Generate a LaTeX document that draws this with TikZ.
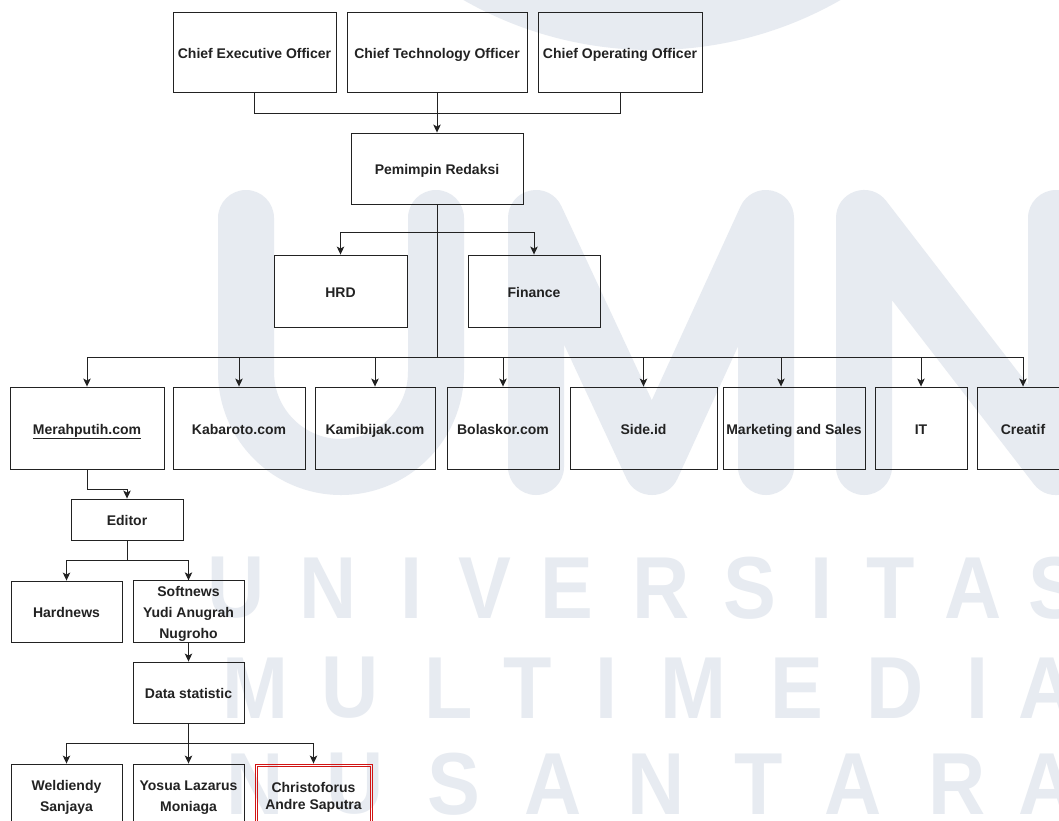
\documentclass[tikz,border=0pt]{standalone}
\usepackage{fontspec}
\setmainfont{Liberation Sans}
\usetikzlibrary{arrows.meta}
\definecolor{wm}{RGB}{231,235,241}
\definecolor{linec}{RGB}{34,34,34}
\definecolor{redc}{RGB}{210,20,20}
\newcommand{\topstrut}[1]{\rule{0pt}{#1}}
\begin{document}
\begin{tikzpicture}[x=1pt,y=-1pt,
  box/.style={draw=linec, line width=0.9pt, text=linec, align=center, inner sep=1pt,
    font=\bfseries\fontsize{14}{21}\selectfont},
  one/.style={box, text height=13pt, text depth=1pt},
  conn/.style={draw=linec, line width=0.9pt},
  arr/.style={conn, -{Stealth[length=8pt,width=7.5pt,inset=2pt]}},
  wmtext/.style={text=wm, inner sep=0pt, xscale=0.9, font=\bfseries\fontsize{88}{88}\selectfont},
  wmline/.style={draw=wm, line width=56pt, line cap=round, line join=round}]
\useasboundingbox (0,0) rectangle (1059,820);
\fill[white] (0,0) rectangle (1059,820);
% ---------- watermark ----------
\begin{scope}
\clip (0,0) rectangle (1059,820);
\fill[wm] (652,-330) circle[radius=380];
\draw[wmline] (246,218) -- (246,372) arc[start angle=180,end angle=0,radius=95] -- (436,218);
\draw[wmline] (536,467) -- (536,218) -- (652,467) -- (766,218) -- (766,467);
\draw[wmline] (864,467) -- (864,218) -- (1056,467) -- (1056,218);
\foreach \l/\x [count=\i] in {U/236,N/328,I/411,V/485,E/567,R/661,S/750,I/821,T/891,A/973,S/1055}
  \node[wmtext] (wa\i) at (\x,588) {\l};
\foreach \l/\x [count=\i] in {M/255,U/350,L/449,T/528,I/606,M/693,E/797,D/895,I/977,A/1047}
  \node[wmtext] (wb\i) at (\x,688) {\l};
\foreach \l/\x [count=\i] in {N/255,U/355,S/454,A/553,N/656,T/759,A/853,R/957,A/1047}
  \node[wmtext] (wc\i) at (\x,784) {\l};
\end{scope}
% ---------- boxes ----------
\node[one, minimum width=163pt, minimum height=80pt] (ceo) at (254.5,52) {Chief Executive Officer};
\node[one, minimum width=180pt, minimum height=80pt] (cto) at (437,52) {Chief Technology Officer};
\node[one, minimum width=164pt, minimum height=80pt] (coo) at (620,52) {Chief Operating Officer};
\node[one, minimum width=172pt, minimum height=71pt] (pem) at (437,168.5) {Pemimpin Redaksi};
\node[one, minimum width=133pt, minimum height=72pt] (hrd) at (340.5,291) {HRD};
\node[one, minimum width=132pt, minimum height=72pt] (fin) at (534,291) {Finance};
\node[one, minimum width=154pt, minimum height=82pt] (merah) at (87,428) {\underline{Merahputih.com}};
\node[one, minimum width=132pt, minimum height=82pt] (kab) at (239,428) {Kabaroto.com};
\node[one, minimum width=120pt, minimum height=82pt] (kami) at (375,428) {Kamibijak.com};
\node[one, minimum width=112pt, minimum height=82pt] (bola) at (503,428) {Bolaskor.com};
\node[one, minimum width=147pt, minimum height=82pt] (side) at (643.5,428) {Side.id};
\node[one, minimum width=142pt, minimum height=82pt] (mkt) at (794,428) {Marketing and Sales};
\node[one, minimum width=92pt, minimum height=82pt] (it) at (921,428) {IT};
\node[one, minimum width=92pt, minimum height=82pt] (cre) at (1023,428) {Creatif};
\node[one, minimum width=112pt, minimum height=41pt] (editor) at (127,519.5) {Editor};
\node[one, minimum width=111pt, minimum height=61pt] (hard) at (66.5,611.5) {Hardnews};
\node[box, minimum width=111pt, minimum height=61pt] (soft) at (188.5,611.5) {\topstrut{14.5pt}Softnews\\Yudi Anugrah\\Nugroho};
\node[one, minimum width=111pt, minimum height=61pt] (data) at (188.5,692.5) {Data statistic};
\node[box, minimum width=111pt, minimum height=61pt] (weld) at (66.5,794.5) {\topstrut{16.5pt}Weldiendy\\Sanjaya};
\node[box, minimum width=111pt, minimum height=61pt] (yos) at (188.5,794.5) {\topstrut{16.5pt}Yosua Lazarus\\Moniaga};
\node[box, draw=redc, minimum width=117pt, minimum height=61pt,
  font=\bfseries\fontsize{14}{17.5}\selectfont] (chris) at (313.5,794.5) {\topstrut{15.5pt}Christoforus\\Andre Saputra};
\draw[redc, line width=0.7pt] ([shift={(2.5pt,-2.5pt)}]chris.north west) rectangle ([shift={(-2.5pt,2.5pt)}]chris.south east);
% ---------- connectors ----------
\draw[conn] (ceo.south) -- ++(0,21) -| (coo.south);
\draw[arr] (cto.south) -- (pem.north);
\coordinate (hb) at (437,232);
\coordinate (bus) at (437,357);
\draw[conn] (pem.south) -- (bus);
\draw[arr] (hb) -| (hrd.north);
\draw[arr] (hb) -| (fin.north);
\draw[arr] (bus) -| (merah.north);
\draw[arr] (bus) -| (kab.north);
\draw[arr] (bus) -| (kami.north);
\draw[arr] (bus) -| (bola.north);
\draw[arr] (bus) -| (side.north);
\draw[arr] (bus) -| ([xshift=-13pt]mkt.north);
\draw[arr] (bus) -| (it.north);
\draw[arr] (bus) -| (cre.north);
\draw[arr] (merah.south) -- ++(0,20) -| (editor.north);
\draw[arr] (editor.south) -- ++(0,20) -| (hard.north);
\draw[arr] (editor.south) -- ++(0,20) -| (soft.north);
\draw[arr] (soft.south) -- (data.north);
\draw[arr] (data.south) -- ++(0,20) -| (weld.north);
\draw[arr] (data.south) -- (yos.north);
\draw[arr] (data.south) -- ++(0,20) -| (chris.north);
\end{tikzpicture}
\end{document}
